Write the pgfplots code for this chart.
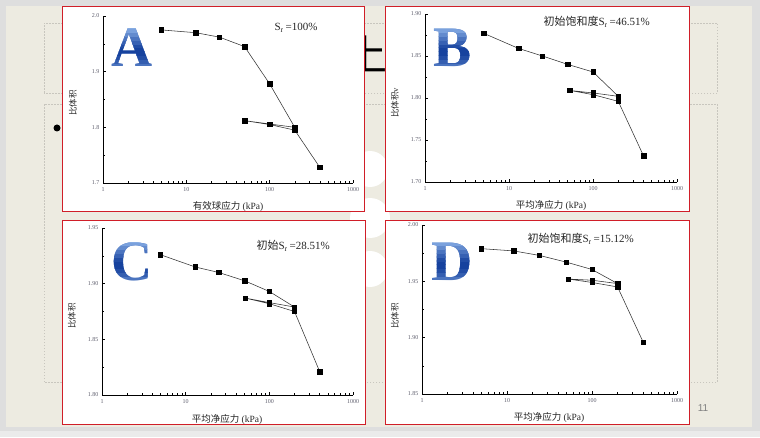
\documentclass[border=0pt]{standalone}
\usepackage{fontspec}
\setmainfont{Liberation Serif}
\newfontfamily\cjk{Noto Sans CJK SC}
\newfontfamily\sansf{Liberation Sans}
\usepackage{pgfplots}
\pgfplotsset{compat=1.18}
\definecolor{slidebg}{RGB}{237,235,225}
\definecolor{outerbg}{RGB}{222,222,222}
\definecolor{frame}{RGB}{208,30,40}
\definecolor{tickc}{RGB}{95,95,110}
\definecolor{letlight}{RGB}{140,178,232}
\definecolor{letdark}{RGB}{22,66,158}
\definecolor{dotc}{RGB}{200,198,190}

\pgfplotstableread{
x y
5 1.975
13 1.970
25 1.962
50 1.945
100 1.878
200 1.800
100 1.806
50 1.812
100 1.805
200 1.795
400 1.728
}\dataA
\pgfplotstableread{
x y
5 1.877
13 1.859
25 1.850
50 1.840
100 1.831
200 1.802
100 1.806
53 1.809
100 1.804
200 1.796
400 1.731
}\dataB
\pgfplotstableread{
x y
5 1.926
13 1.915
25 1.910
51 1.9025
100 1.893
200 1.879
100 1.883
52 1.887
100 1.882
200 1.875
400 1.821
}\dataC
\pgfplotstableread{
x y
5 1.979
12 1.977
24 1.973
50 1.967
100 1.9605
200 1.948
100 1.951
53 1.952
100 1.949
200 1.945
400 1.896
}\dataD

\pgfplotsset{every axis/.append style={
  scale only axis, xmin=1, xmax=1000,
  axis lines=left, axis line style={-, line width=0.7pt, black},
  major tick length=3pt, minor tick length=1.8pt,
  tick align=inside,
  xtick={1,10,100,1000}, xticklabels={1,10,100,1000},
  minor y tick num=1,
  tick label style={font=\fontsize{6}{6}\selectfont, text=tickc},
  xticklabel style={yshift=-1pt},
  tick style={black, line width=0.45pt},
  clip=false,
}}
\tikzset{dat/.style={black!80, line width=0.55pt, mark=square*, mark size=2.2pt, mark options={solid, fill=black, draw=black}},
  xl/.style={font=\fontsize{9.5}{9.5}\selectfont, text=black!85},
  yl/.style={font=\fontsize{8.5}{8.5}\selectfont, rotate=90, text=black!85},
  ann/.style={font=\fontsize{11}{11}\selectfont, anchor=west, text=black!85},
  big/.style={font=\fontsize{57}{57}\selectfont\bfseries, anchor=base, inner sep=0pt}}

% big letter with a banded vertical gradient: #1 letter, #2 x centre, #3 baseline
\newcommand\bigletter[3]{%
  \node[big, text=letdark!55!letlight] at (#2,#3) {#1};
  \foreach \i/\cc in {1/letdark!75!letlight, 2/letdark!90!letlight, 3/letdark, 4/letdark,
      5/letdark!90!letlight, 6/letdark!72!letlight, 7/letdark!55!letlight,
      8/letdark!35!letlight, 9/letdark!15!letlight, 10/letlight}{%
    \begin{scope}
      \clip (#2-40,#3+3.8*\i) rectangle (#2+40,#3+3.8*\i+4.1);
      \node[big, text=\cc] at (#2,#3) {#1};
    \end{scope}}}

\begin{document}
\begin{tikzpicture}[x=1pt,y=1pt]
\useasboundingbox (0,0) rectangle (760,437);
% slide background
\fill[outerbg] (0,0) rectangle (760,437);
\fill[white!40!outerbg] (0,0) rectangle (760,6);
\fill[slidebg] (6,10) rectangle (752,431);
\draw[dotc, line width=0.8pt, dash pattern=on 1.5pt off 1.5pt] (44,344) rectangle (717,414);
\draw[dotc, line width=0.8pt, dash pattern=on 1.5pt off 1.5pt] (44,55) rectangle (717,333);
\node[font=\cjk\fontsize{42}{42}\selectfont, text=black] at (366,383) {上};
\fill[black] (57,309) circle (3.5);
\node[font=\sansf\fontsize{10}{10}\selectfont, text=gray] at (703,29) {11};
\fill[white] (370,219) circle (20);
\fill[white] (370,268) circle (18);
\fill[white] (370,168) circle (18);
% panel fills
\fill[white] (62,225) rectangle (364,430);
\fill[white] (385,225) rectangle (689,430);
\fill[white] (62,13) rectangle (365,217);
\fill[white] (385,13) rectangle (689,217);

% A
\begin{semilogxaxis}[at={(103pt,254pt)}, anchor=south west, width=250pt, height=167pt,
  ymin=1.7, ymax=2.0, ytick={1.7,1.8,1.9,2.0}, yticklabels={1.7,1.8,1.9,2.0}]
\addplot[dat] table[x=x,y=y] {\dataA};
\end{semilogxaxis}
\node[xl] at (228,231) {{\cjk 有效球应力} (kPa)};
\node[yl] at (73,334) {\cjk 比体积};
\node[ann] at (271,409) {S\textsubscript{r}\,=100\%};
\bigletter{A}{132}{370}

% B
\begin{semilogxaxis}[at={(425pt,255pt)}, anchor=south west, width=252pt, height=168pt,
  ymin=1.70, ymax=1.90, ytick={1.70,1.75,1.80,1.85,1.90}, yticklabels={1.70,1.75,1.80,1.85,1.90}]
\addplot[dat] table[x=x,y=y] {\dataB};
\end{semilogxaxis}
\node[xl] at (551,232) {{\cjk 平均净应力} (kPa)};
\node[yl] at (395,334) {{\cjk 比体积}v};
\node[ann] at (540,415) {{\cjk 初始饱和度}S\textsubscript{r}\,=46.51\%};
\bigletter{B}{453}{370}

% C
\begin{semilogxaxis}[at={(102pt,42pt)}, anchor=south west, width=251pt, height=167pt,
  ymin=1.80, ymax=1.95, ytick={1.80,1.85,1.90,1.95}, yticklabels={1.80,1.85,1.90,1.95}]
\addplot[dat] table[x=x,y=y] {\dataC};
\end{semilogxaxis}
\node[xl] at (227,18) {{\cjk 平均净应力} (kPa)};
\node[yl] at (72,121) {\cjk 比体积};
\node[ann] at (253,191) {{\cjk 初始}S\textsubscript{r}\,=28.51\%};
\bigletter{C}{132}{157}

% D
\begin{semilogxaxis}[at={(422pt,43pt)}, anchor=south west, width=255pt, height=169pt,
  ymin=1.85, ymax=2.00, ytick={1.85,1.90,1.95,2.00}, yticklabels={1.85,1.90,1.95,2.00}]
\addplot[dat] table[x=x,y=y] {\dataD};
\end{semilogxaxis}
\node[xl] at (549,20) {{\cjk 平均净应力} (kPa)};
\node[yl] at (395,121) {\cjk 比体积};
\node[ann] at (524,198) {{\cjk 初始饱和度}S\textsubscript{r}\,=15.12\%};
\bigletter{D}{452}{157}

% panel frames on top
\draw[frame, line width=1pt] (62,225) rectangle (364,430);
\draw[frame, line width=1pt] (385,225) rectangle (689,430);
\draw[frame, line width=1pt] (62,13) rectangle (365,217);
\draw[frame, line width=1pt] (385,13) rectangle (689,217);
\end{tikzpicture}
\end{document}
